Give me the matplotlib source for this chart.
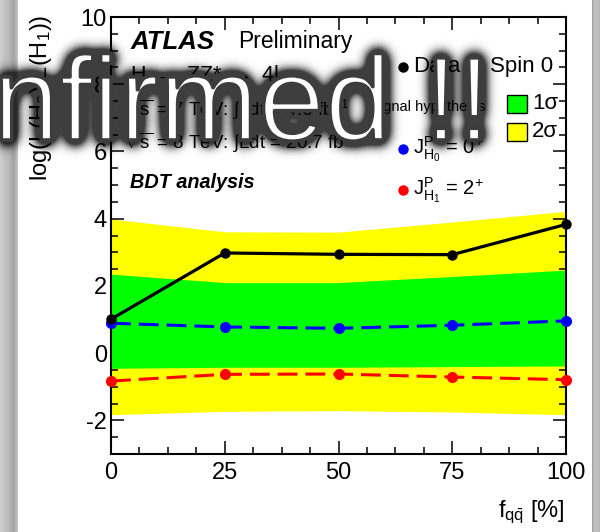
import numpy as np
import matplotlib
matplotlib.use("Agg")
import matplotlib.pyplot as plt
import matplotlib.patheffects as pe
from matplotlib.ticker import MultipleLocator, FixedLocator
from matplotlib.patches import Rectangle
from matplotlib.lines import Line2D

plt.rcParams['font.family'] = ['Liberation Sans', 'DejaVu Sans']
plt.rcParams['mathtext.fontset'] = 'custom'
plt.rcParams['mathtext.rm'] = 'Liberation Sans'
plt.rcParams['mathtext.it'] = 'Liberation Sans:italic'
plt.rcParams['mathtext.bf'] = 'Liberation Sans:bold'
plt.rcParams['mathtext.sf'] = 'Liberation Sans'
plt.rcParams['axes.unicode_minus'] = False

# ---- data -------------------------------------------------------------
fqq = [0, 25, 50, 75, 100]
data_llr = [1.01, 2.98, 2.94, 2.93, 3.83]
spin0_llr = [0.89, 0.78, 0.74, 0.83, 0.96]
spin2_llr = [-0.83, -0.63, -0.62, -0.71, -0.79]
band1_lo = [-0.45, -0.42, -0.42, -0.40, -0.38]
band1_hi = [2.35, 2.10, 2.10, 2.28, 2.47]
band2_lo = [-1.83, -1.73, -1.71, -1.75, -1.83]
band2_hi = [3.99, 3.61, 3.60, 3.90, 4.22]
xticks = [0, 25, 50, 75, 100]
banner = "nfirmed !!"

W, H, DPI = 600, 532, 100
FS = (W / DPI, H / DPI)

fig = plt.figure(figsize=FS, dpi=DPI)
ax = fig.add_axes([111 / W, 1 - 454 / H, 455 / W, 437 / H])

# expected bands
ax.fill_between(fqq, band2_lo, band2_hi, color='#ffff00', lw=0, zorder=1)
ax.fill_between(fqq, band1_lo, band1_hi, color='#00ff00', lw=0, zorder=2)

# hypotheses and data
dash = (0, (6.5, 2.6))
ax.plot(fqq, spin0_llr, marker='o', ls=dash, color='#0000ff', lw=2.2, ms=7,
        zorder=4, clip_on=False)
ax.plot(fqq, spin2_llr, marker='o', ls=dash, color='#ff0000', lw=2.2, ms=7,
        zorder=4, clip_on=False)
ax.plot(fqq, data_llr, marker='o', ls='-', color='black', lw=2.3, ms=6.5,
        zorder=5, clip_on=False)

ax.set_xlim(0, 100)
ax.set_ylim(-3, 10)
ax.xaxis.set_major_locator(FixedLocator(xticks))
ax.xaxis.set_minor_locator(MultipleLocator(6.25))
ax.yaxis.set_major_locator(MultipleLocator(2))
ax.yaxis.set_minor_locator(MultipleLocator(0.5))
ax.tick_params(which='both', direction='in', top=True, right=True,
               width=1.1, labelsize=17)
ax.tick_params(which='major', length=9.5)
ax.tick_params(which='minor', length=5)
ax.tick_params(axis='x', pad=6)
ax.tick_params(axis='y', pad=3)
for s in ax.spines.values():
    s.set_linewidth(1.5)

ax.set_ylabel(r'log(L(H$_0$)/L(H$_1$))', fontsize=17, loc='top')
ax.yaxis.set_label_coords(-0.125, 1.005)
ax.set_xlabel(r'f$_{\mathrm{q\bar{q}}}$ [%]', fontsize=17, loc='right')
ax.xaxis.set_label_coords(0.997, -0.102)

# annotations
t = ax.transAxes
ax.text(0.042, 0.943, 'ATLAS', transform=t, fontsize=18.5, fontweight='bold',
        fontstyle='italic', va='center')
ax.text(0.279, 0.943, 'Preliminary', transform=t, fontsize=16.5, va='center')
ax.text(0.042, 0.867, r'H $\rightarrow$ ZZ* $\rightarrow$ 4l', transform=t,
        fontsize=15.5, va='center')
ax.text(0.030, 0.787, r'$\sqrt{\mathrm{s}}$ = 7 TeV: $\int$Ldt = 4.6 fb$^{-1}$',
        transform=t, fontsize=13.5, va='center')
ax.text(0.030, 0.712, r'$\sqrt{\mathrm{s}}$ = 8 TeV: $\int$Ldt = 20.7 fb$^{-1}$',
        transform=t, fontsize=13.5, va='center')
ax.text(0.042, 0.622, 'BDT analysis', transform=t, fontsize=14.3,
        fontweight='bold', fontstyle='italic', va='center')

# legend
for fy, col in [(0.886, 'black'), (0.698, '#0000ff'), (0.604, '#ff0000')]:
    ax.add_line(Line2D([0.642], [fy], transform=t, marker='o', ls='none',
                       color=col, ms=6.5, clip_on=False, zorder=6))
ax.text(0.664, 0.886, 'Data', transform=t, fontsize=16, va='center')
ax.text(0.833, 0.886, 'Spin 0', transform=t, fontsize=16, va='center')
ax.text(0.569, 0.794, 'Signal hypothesis', transform=t, fontsize=10.5,
        va='center')
ax.text(0.664, 0.698, r'J$^{\mathrm{P}}_{\mathrm{H}_0}$ = 0$^{+}$',
        transform=t, fontsize=14.5, va='center')
ax.text(0.664, 0.604, r'J$^{\mathrm{P}}_{\mathrm{H}_1}$ = 2$^{+}$',
        transform=t, fontsize=14.5, va='center')
for fy, col, lab in [(0.780, '#00ff00', '1σ'), (0.716, '#ffff00', '2σ')]:
    ax.add_patch(Rectangle((0.870, fy), 0.044, 0.042, transform=t,
                           facecolor=col, edgecolor='black', lw=1,
                           clip_on=False, zorder=6))
    ax.text(0.925, fy + 0.021, lab, transform=t, fontsize=16, va='center')

# gray side strips
left_cols = np.array([205, 205, 200, 198, 195, 192, 190, 188, 185, 182,
                      178, 172, 168, 165, 168, 175, 185, 195]) / 255.0
right_cols = np.array([165, 180, 190, 192, 192, 190, 188, 185]) / 255.0
lstrip = np.repeat(np.tile(left_cols, (H, 1))[..., None], 3, axis=2)
rstrip = np.repeat(np.tile(right_cols, (H, 1))[..., None], 3, axis=2)
fig.figimage(lstrip, xo=0, yo=0, origin='upper', zorder=1)
fig.figimage(rstrip, xo=W - len(right_cols), yo=0, origin='upper', zorder=1)

# banner with soft dark glow
banner_kw = dict(fontsize=86, family='Liberation Sans', ha='left',
                 va='baseline')
bx, by = -7 / W, 1 - 140 / H

mfig = plt.figure(figsize=FS, dpi=DPI)
mfig.text(bx, by, banner, color='black', **banner_kw)
mfig.canvas.draw()
buf = np.asarray(mfig.canvas.buffer_rgba()).astype(float)
mask = 1.0 - buf[..., 0] / 255.0
plt.close(mfig)


def gblur(img, sigma):
    pad = int(4 * sigma)
    p = np.pad(img, pad)
    h, w = p.shape
    fy = np.fft.fftfreq(h)[:, None]
    fx = np.fft.rfftfreq(w)[None, :]
    g = np.exp(-2 * (np.pi * sigma) ** 2 * (fx ** 2 + fy ** 2))
    out = np.fft.irfft2(np.fft.rfft2(p) * g, s=p.shape)
    return out[pad:-pad, pad:-pad]


spread = (gblur(mask, 4.0) > 0.08).astype(float)
glow = np.clip(gblur(spread, 5.5) * 1.7, 0, 0.76)
shade = np.zeros((H, W, 4))
shade[..., 3] = glow
fig.figimage(shade, xo=0, yo=0, origin='upper', zorder=15)
# thin the white letters slightly with a rim in the glow tone
fig.text(bx, by, banner, color='white', zorder=20,
         path_effects=[pe.Normal(),
                       pe.Stroke(linewidth=2.6, foreground='#3d3d3d')],
         **banner_kw)

fig.savefig('out.png', dpi=DPI)
